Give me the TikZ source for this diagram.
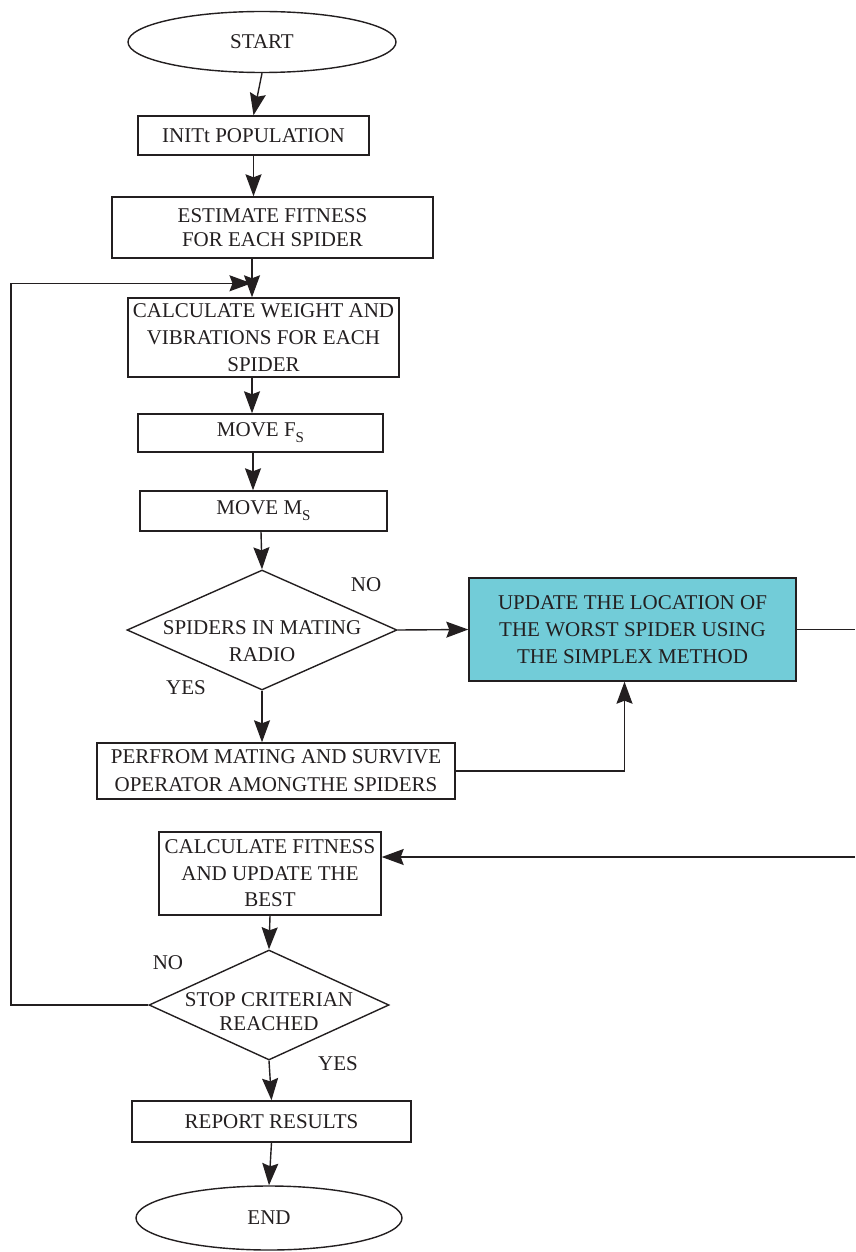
\documentclass[tikz,border=0pt]{standalone}
\usepackage{fontspec}
\setmainfont{Liberation Serif}
\usetikzlibrary{arrows.meta,shapes.geometric,calc}
\definecolor{ink}{HTML}{231F20}
\definecolor{cyanbox}{HTML}{72CCD8}
\newcommand\flowfont{\fontsize{21}{27}\selectfont}
\newcommand\subS{\raisebox{-0.28em}{\fontsize{15}{15}\selectfont S}}
\begin{document}
\begin{tikzpicture}[x=1pt,y=-1pt,
  box/.style={draw=ink, line width=1.4pt, inner sep=0pt, align=center, text=ink, font=\flowfont},
  oval/.style={ellipse, draw=ink, line width=1.4pt, inner sep=0pt, text=ink, font=\flowfont},
  dia/.style={diamond, draw=ink, line width=1.4pt, inner sep=0pt},
  lbl/.style={text=ink, font=\flowfont, inner sep=0pt, align=center},
  arr/.style={draw=ink, line width=1.4pt, -{Stealth[length=22pt,width=16pt,inset=3pt]}},
  plain/.style={draw=ink, line width=1.4pt}]
\useasboundingbox (0,0) rectangle (855,1252);

\node[oval, minimum width=268pt, minimum height=61pt] (start) at (262,42) {START};
\node[box, minimum width=231pt, minimum height=39pt] (init) at (253.5,135.5) {INITt POPULATION};
\node[box, minimum width=321pt, minimum height=61pt, font=\fontsize{21}{24}\selectfont] (est) at (272.5,227.5) {ESTIMATE FITNESS\\FOR EACH SPIDER};
\node[box, minimum width=271pt, minimum height=79pt] (cw) at (263.5,337.5) {CALCULATE WEIGHT AND\\VIBRATIONS FOR EACH\\SPIDER};
\node[box, minimum width=245pt, minimum height=38pt] (fs) at (260.5,433) {MOVE F\subS};
\node[box, minimum width=247pt, minimum height=40pt] (ms) at (263.5,511) {MOVE M\subS};
\node[dia, minimum width=270pt, minimum height=120pt] (d1) at (262,630) {};
\node[lbl] (d1t) at (262,641) {SPIDERS IN MATING\\RADIO};
\node[box, fill=cyanbox, minimum width=327pt, minimum height=103pt] (upd) at (632.5,629.5) {UPDATE THE LOCATION OF\\THE WORST SPIDER USING\\THE SIMPLEX METHOD};
\node[box, minimum width=358pt, minimum height=56pt, font=\fontsize{21}{28}\selectfont] (perf) at (276,771) {PERFROM MATING AND SURVIVE\\OPERATOR AMONGTHE SPIDERS};
\node[box, minimum width=222pt, minimum height=83pt, font=\fontsize{21}{26.5}\selectfont] (cf) at (270,873.5) {CALCULATE FITNESS\\AND UPDATE THE\\BEST};
\node[dia, minimum width=240pt, minimum height=110pt] (d2) at (269,1005) {};
\node[lbl, font=\fontsize{21}{24}\selectfont] (d2t) at (269,1012) {STOP CRITERIAN\\REACHED};
\node[box, minimum width=279pt, minimum height=41pt] (rep) at (271.5,1121.5) {REPORT RESULTS};
\node[oval, minimum width=266pt, minimum height=64pt] (end) at (269,1218) {END};

\node[lbl] (no1) at (366,585) {NO};
\node[lbl] (yes1) at (186,688) {YES};
\node[lbl] (no2) at (168,963) {NO};
\node[lbl] (yes2) at (338,1064) {YES};

\coordinate (loopx) at (11,0);
\coordinate (re1) at (855,631);
\coordinate (re2) at (855,857);

\draw[arr] (start.south) -- (init.north);
\draw[arr] (init.south) -- (init.south |- est.north);
\draw[arr] (est.south -| 252,0) -- (cw.north -| 252,0);
\draw[arr] (d2.west) -- (d2.west -| loopx) |- ($(cw.north)+(-12,-14)$);
\draw[arr] (cw.south -| 252,0) -- (fs.north -| 252,0);
\draw[arr] (fs.south -| 253,0) -- (ms.north -| 253,0);
\draw[arr] (ms.south -| 261,0) -- (d1.north);
\draw[arr] (d1.east) -- (upd.west);
\draw[plain] (upd.east) -- (upd.east -| re1);
\draw[arr] (d1.south) -- (d1.south |- perf.north);
\draw[arr] (perf.east) -| ([xshift=-8pt]upd.south);
\draw[arr] (re2) -- (cf.east |- re2);
\draw[arr] (cf.south) -- (d2.north);
\draw[arr] (d2.south) -- (rep.north);
\draw[arr] (rep.south) -- (end.north);
\end{tikzpicture}
\end{document}
